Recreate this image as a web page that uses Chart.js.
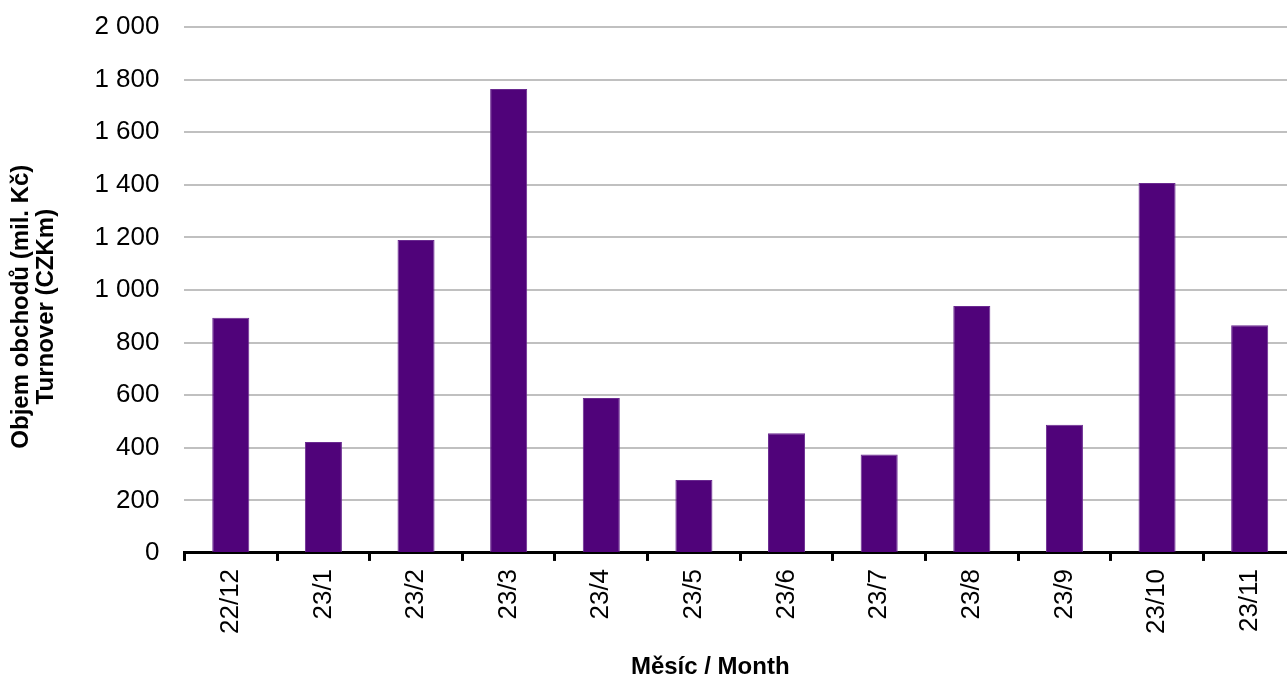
<!DOCTYPE html>
<html>
<head>
<meta charset="utf-8">
<script src="https://cdn.jsdelivr.net/npm/chart.js@4"></script>
<style>
  html, body { margin: 0; padding: 0; background: #fff; overflow: hidden; }
  #wrap { width: 1300px; height: 679px; }
</style>
</head>
<body>
<div id="wrap"><canvas id="myChart"></canvas></div>
<script>
// data
const months = ['22/12', '23/1', '23/2', '23/3', '23/4', '23/5', '23/6', '23/7', '23/8', '23/9', '23/10', '23/11'];
const turnover = [894, 422, 1190, 1764, 589, 277, 455, 374, 939, 487, 1407, 866];
const yTicks = [0, 200, 400, 600, 800, 1000, 1200, 1400, 1600, 1800, 2000];

const fmt = v => String(v).replace(/\B(?=(\d{3})+(?!\d))/g, ' ');
// titles sit a bit off-centre in the original, pad with trailing spaces
const pad = (s, n) => s + '\u00a0'.repeat(n);

Chart.defaults.font.family = '"Liberation Sans", Arial, sans-serif';
Chart.defaults.color = '#000';

const ctx = document.getElementById('myChart');

new Chart(ctx, {
  type: 'bar',
  data: {
    labels: months,
    datasets: [{
      label: 'Turnover',
      data: turnover,
      backgroundColor: '#50037a',
      borderColor: '#6a2a90',
      borderWidth: 1,
      barPercentage: 0.4,
      categoryPercentage: 1
    }]
  },
  options: {
    responsive: true,
    maintainAspectRatio: false,
    animation: false,
    layout: { padding: { top: 27, right: 4, left: 9, bottom: 0 } },
    plugins: {
      legend: { display: false },
      tooltip: { enabled: false }
    },
    scales: {
      x: {
        offset: true,
        border: { display: true, color: '#000', width: 3 },
        grid: {
          offset: true,
          drawOnChartArea: false,
          drawTicks: true,
          tickLength: 8,
          color: '#000',
          lineWidth: 3
        },
        ticks: {
          minRotation: 90,
          maxRotation: 90,
          padding: 8,
          font: { size: 26 }
        },
        title: {
          display: true,
          text: pad('Měsíc / Month', 9),
          font: { size: 24, weight: 'bold', lineHeight: 1.0 },
          padding: { top: 13, bottom: 0 }
        }
      },
      y: {
        min: 0,
        max: 2000,
        afterBuildTicks: axis => { axis.ticks = yTicks.map(v => ({ value: v })); },
        afterFit: axis => { axis.paddingTop = 0; },
        border: { display: false },
        grid: { color: '#c0c0c0', lineWidth: 2, drawTicks: false },
        ticks: {
          padding: 25,
          font: { size: 26 },
          callback: v => fmt(v)
        },
        title: {
          display: true,
          text: [pad('Objem obchodů (mil. Kč)', 5), pad('Turnover (CZKm)', 5)],
          font: { size: 24, weight: 'bold', lineHeight: 1.05 },
          padding: { top: 0, bottom: 10 }
        }
      }
    }
  }
});
</script>
</body>
</html>
